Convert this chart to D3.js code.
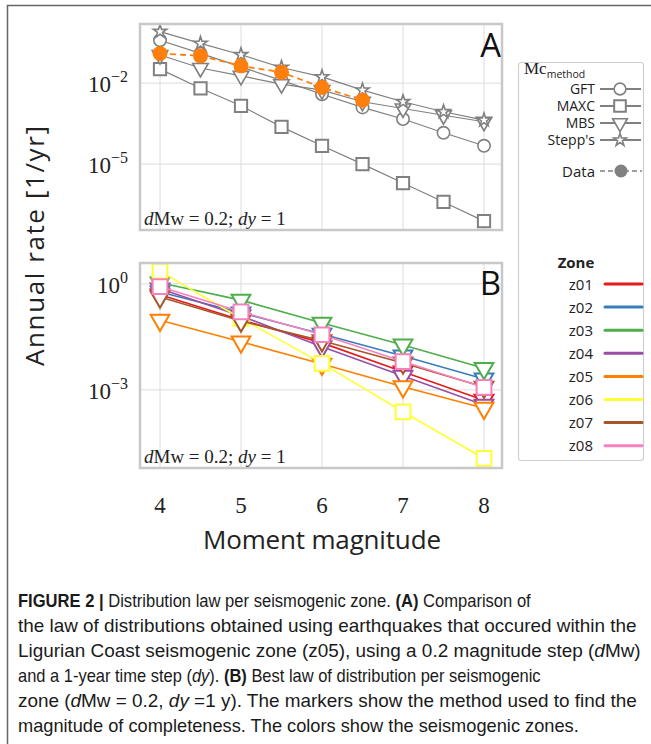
<!DOCTYPE html>
<html>
<head>
<meta charset="utf-8">
<script src="https://cdnjs.cloudflare.com/ajax/libs/d3/7.8.5/d3.min.js"></script>
<style>
  body { margin: 0; background: #fff; }
  svg { display: block; }
</style>
</head>
<body>
<div id="chart"></div>
<script>
// magnitudes
let magA = [4, 4.5, 5, 5.5, 6, 6.5, 7, 7.5, 8];
let magB = [4, 5, 6, 7, 8];
let magData = [4, 4.5, 5, 5.5, 6, 6.5];

// panel A, log10 annual rate per Mc method (zone z05)
let methods = ["GFT", "MAXC", "MBS", "Stepp's"];
let gftA = [-0.41, -0.90, -1.40, -1.90, -2.41, -2.90, -3.33, -3.84, -4.32];
let maxcA = [-1.48, -2.19, -2.84, -3.62, -4.32, -5.0, -5.70, -6.40, -7.11];
let mbsA = [-0.96, -1.44, -1.73, -2.04, -2.26, -2.69, -2.94, -3.19, -3.43];
let steppA = [-0.09, -0.53, -0.95, -1.42, -1.77, -2.26, -2.69, -3.06, -3.37];
let dataA = [-0.90, -0.99, -1.36, -1.60, -2.16, -2.63];

// panel B, log10 annual rate per zone
let zones = ["z01", "z02", "z03", "z04", "z05", "z06", "z07", "z08"];
let zoneColors = ["#e41a1c", "#377eb8", "#4daf4a", "#984ea3", "#ff7f00", "#ffff33", "#a65628", "#f781bf"];
let zoneMethod = ["MBS", "MBS", "MBS", "MBS", "MBS", "MAXC", "MBS", "MAXC"];
let zoneRates = [
  [-0.31, -1.02, -1.67, -2.49, -3.29],
  [-0.23, -0.82, -1.42, -2.04, -2.69],
  [0.03, -0.46, -1.11, -1.73, -2.39],
  [-0.14, -0.91, -1.78, -2.61, -3.43],
  [-1.03, -1.64, -2.27, -2.91, -3.52],
  [0.36, -0.98, -2.25, -3.62, -4.94],
  [-0.37, -1.05, -1.61, -2.24, -2.92],
  [-0.08, -0.79, -1.44, -2.20, -2.93]
];

let xTicks = [4, 5, 6, 7, 8];
let yTicksA = [-2, -5];
let yTicksB = [0, -3];

let captionLines = [
  [["b", "FIGURE 2 | "], ["", "Distribution law per seismogenic zone. "], ["b", "(A)"], ["", " Comparison of"]],
  [["", "the law of distributions obtained using earthquakes that occured within the"]],
  [["", "Ligurian Coast seismogenic zone (z05), using a 0.2 magnitude step  ("], ["i", "d"], ["", "Mw)"]],
  [["", "and a 1-year time step ("], ["i", "dy"], ["", "). "], ["b", "(B)"], ["", " Best law of distribution per seismogenic"]],
  [["", "zone ("], ["i", "d"], ["", "Mw = 0.2, "], ["i", "dy"], ["", " =1 y). The markers show the method used to find the"]],
  [["", "magnitude of completeness. The colors show the seismogenic zones."]]
];
let captionEnds = [531, 637, 641, 541, 637, 579];

let svgWidth = 651;
let svgHeight = 744;
let serif = "'Liberation Serif', 'DejaVu Serif', serif";
let sans = "'Open Sans', 'DejaVu Sans', sans-serif";
let grey = "#808080";

let svg = d3.select("#chart").append("svg")
  .attr("width", svgWidth)
  .attr("height", svgHeight);

// figure frame (top and left edges)
svg.append("path")
  .attr("d", "M7.5,744 V5.5 H651")
  .attr("fill", "none")
  .attr("stroke", "#666")
  .attr("stroke-width", 1.5);

let x = d3.scaleLinear().domain([3.753, 8.222]).range([140, 502]);
let yA = d3.scaleLog().domain([Math.pow(10, 0.19), Math.pow(10, -7.44)]).range([24, 230]);
let yB = d3.scaleLog().domain([Math.pow(10, 0.59), Math.pow(10, -5.21)]).range([263, 468]);

let symbolType = {
  "GFT": d3.symbolCircle,
  "MAXC": d3.symbolSquare,
  "MBS": d3.symbolTriangle,
  "Stepp's": d3.symbolStar
};
let symbolSize = { "GFT": 120, "MAXC": 150, "MBS": 105, "Stepp's": 55 };

function marker(g, method, cx, cy, color, scale) {
  let s = scale || 1;
  let rot = method === "MBS" ? " rotate(180)" : "";
  g.append("path")
    .attr("d", d3.symbol().type(symbolType[method]).size(symbolSize[method] * s)())
    .attr("transform", `translate(${cx},${cy})${rot}`)
    .attr("fill", "#fff")
    .attr("stroke", color)
    .attr("stroke-width", method === "MAXC" || s > 1 ? 2 : 1.6);
}

function panel(y, ticks, top, bottom, letter, letterY, noteY) {
  let g = svg.append("g");
  g.append("rect")
    .attr("x", 140).attr("y", top)
    .attr("width", 362).attr("height", bottom - top)
    .attr("fill", "#fff");
  // grid
  g.selectAll(".vgrid").data(xTicks).enter().append("line")
    .attr("x1", d => x(d)).attr("x2", d => x(d))
    .attr("y1", top).attr("y2", bottom)
    .attr("stroke", "#dcdcdc").attr("stroke-width", 1);
  g.selectAll(".hgrid").data(ticks).enter().append("line")
    .attr("x1", 140).attr("x2", 502)
    .attr("y1", d => y(Math.pow(10, d))).attr("y2", d => y(Math.pow(10, d)))
    .attr("stroke", "#dcdcdc").attr("stroke-width", 1);
  // tick labels
  ticks.forEach(function(t) {
    let lab = svg.append("text")
      .attr("x", 128)
      .attr("y", y(Math.pow(10, t)) + 9)
      .attr("text-anchor", "end")
      .attr("font-family", serif)
      .attr("font-size", 23)
      .attr("fill", "#222");
    lab.append("tspan").text("10");
    lab.append("tspan")
      .attr("font-size", 16)
      .attr("dy", -10)
      .text(t < 0 ? "\u2212" + (-t) : "" + t);
  });
  // panel letter
  svg.append("text")
    .attr("x", 501).attr("y", letterY)
    .attr("text-anchor", "end")
    .attr("font-family", sans)
    .attr("font-size", 33)
    .attr("fill", "#111")
    .text(letter);
  // dMw note
  let note = svg.append("text")
    .attr("x", 144).attr("y", noteY)
    .attr("font-family", serif)
    .attr("font-size", 19)
    .attr("fill", "#222");
  note.append("tspan").attr("font-style", "italic").text("d");
  note.append("tspan").text("Mw = 0.2; ");
  note.append("tspan").attr("font-style", "italic").text("dy");
  note.append("tspan").text(" = 1");
  return g;
}

function frame(top, bottom) {
  svg.append("rect")
    .attr("x", 140).attr("y", top)
    .attr("width", 362).attr("height", bottom - top)
    .attr("fill", "none")
    .attr("stroke", "#c8c8c8")
    .attr("stroke-width", 2.5);
}

// ---------- panel A ----------
let gA = panel(yA, yTicksA, 24, 230, "A", 57, 225);
let line = (xs, ys, y) => d3.line().x((d, i) => x(xs[i])).y(d => y(Math.pow(10, d)));
let seriesA = [gftA, maxcA, mbsA, steppA];

seriesA.forEach(function(s, k) {
  gA.append("path")
    .attr("d", line(magA, s, yA)(s))
    .attr("fill", "none")
    .attr("stroke", grey)
    .attr("stroke-width", 1.2);
});
seriesA.forEach(function(s, k) {
  s.forEach(function(v, i) {
    marker(gA, methods[k], x(magA[i]), yA(Math.pow(10, v)), grey);
  });
});

gA.append("path")
  .attr("d", line(magData, dataA, yA)(dataA))
  .attr("fill", "none")
  .attr("stroke", "#ff7f0e")
  .attr("stroke-width", 1.8)
  .attr("stroke-dasharray", "6,4");
gA.selectAll(".dot").data(dataA).enter().append("circle")
  .attr("cx", (d, i) => x(magData[i]))
  .attr("cy", d => yA(Math.pow(10, d)))
  .attr("r", 7.5)
  .attr("fill", "#ff7f0e");
frame(24, 230);

// ---------- panel B ----------
let gB = panel(yB, yTicksB, 263, 468, "B", 295, 463);
zoneRates.forEach(function(s, k) {
  gB.append("path")
    .attr("d", line(magB, s, yB)(s))
    .attr("fill", "none")
    .attr("stroke", zoneColors[k])
    .attr("stroke-width", 1.6);
  s.forEach(function(v, i) {
    marker(gB, zoneMethod[k], x(magB[i]), yB(Math.pow(10, v)), zoneColors[k], 1.45);
  });
});
frame(263, 468);

// ---------- axes labels ----------
svg.selectAll(".xtick").data(xTicks).enter().append("text")
  .attr("x", d => x(d))
  .attr("y", 513)
  .attr("text-anchor", "middle")
  .attr("font-family", serif)
  .attr("font-size", 23)
  .attr("fill", "#222")
  .text(d => d);

svg.append("text")
  .attr("x", 322).attr("y", 549)
  .attr("text-anchor", "middle")
  .attr("font-family", sans)
  .attr("font-size", 26)
  .attr("fill", "#222")
  .attr("textLength", 238)
  .text("Moment magnitude");

svg.append("text")
  .attr("transform", "translate(44,246) rotate(-90)")
  .attr("text-anchor", "middle")
  .attr("font-family", sans)
  .attr("font-size", 26)
  .attr("fill", "#222")
  .attr("textLength", 240)
  .text("Annual rate [1/yr]");

// ---------- legend ----------
let leg = svg.append("g");
leg.append("rect")
  .attr("x", 518.5).attr("y", 62.5)
  .attr("width", 125).attr("height", 398)
  .attr("rx", 3)
  .attr("fill", "#fff")
  .attr("stroke", "#cfcfcf")
  .attr("stroke-width", 1.2);

let title = leg.append("text")
  .attr("x", 524).attr("y", 74)
  .attr("font-family", serif)
  .attr("font-size", 17)
  .attr("fill", "#222");
title.append("tspan").text("Mc");
title.append("tspan").attr("font-family", sans).attr("font-size", 10.5).attr("dy", 4).text("method");

let methodY = [89, 106, 123, 140];
methods.forEach(function(m, i) {
  leg.append("text")
    .attr("x", 595).attr("y", methodY[i] + 5)
    .attr("text-anchor", "end")
    .attr("font-family", sans)
    .attr("font-size", 14)
    .attr("fill", "#222")
    .text(m);
  leg.append("line")
    .attr("x1", 600).attr("x2", 641)
    .attr("y1", methodY[i]).attr("y2", methodY[i])
    .attr("stroke", grey).attr("stroke-width", 1.8);
  marker(leg, m, 620, methodY[i], grey, 0.9);
});

leg.append("text")
  .attr("x", 595).attr("y", 176.5)
  .attr("text-anchor", "end")
  .attr("font-family", sans)
  .attr("font-size", 15)
  .attr("fill", "#222")
  .text("Data");
leg.append("line")
  .attr("x1", 600).attr("x2", 642)
  .attr("y1", 171).attr("y2", 171)
  .attr("stroke", grey).attr("stroke-width", 1.4)
  .attr("stroke-dasharray", "5,3");
leg.append("circle")
  .attr("cx", 621).attr("cy", 171).attr("r", 6.5)
  .attr("fill", grey);

leg.append("text")
  .attr("x", 576).attr("y", 268)
  .attr("text-anchor", "middle")
  .attr("font-family", sans)
  .attr("font-size", 15)
  .attr("font-weight", "bold")
  .attr("fill", "#222")
  .text("Zone");

zones.forEach(function(z, i) {
  let yy = 284 + i * 23.1;
  leg.append("text")
    .attr("x", 593).attr("y", yy + 5.5)
    .attr("text-anchor", "end")
    .attr("font-family", sans)
    .attr("font-size", 15)
    .attr("fill", "#222")
    .text(z);
  leg.append("line")
    .attr("x1", 605).attr("x2", 642)
    .attr("y1", yy).attr("y2", yy)
    .attr("stroke", zoneColors[i])
    .attr("stroke-width", 3)
    .attr("stroke-linecap", "round");
});

// ---------- caption ----------
// each line is squeezed horizontally so that it ends where it does in the figure
captionLines.forEach(function(parts, i) {
  let t = svg.append("text")
    .attr("x", 0)
    .attr("y", 0)
    .attr("font-family", "'Liberation Sans', Arial, sans-serif")
    .attr("font-size", 17.5)
    .attr("fill", "#1a1a1a");
  parts.forEach(function(p) {
    let ts = t.append("tspan").text(p[1]);
    if (p[0] === "b") ts.attr("font-weight", "bold");
    if (p[0] === "i") ts.attr("font-style", "italic");
  });
  let sx = (captionEnds[i] - 18) / t.node().getComputedTextLength();
  t.attr("transform", `translate(18,${607 + i * 25}) scale(${sx},1)`);
});
</script>
</body>
</html>
